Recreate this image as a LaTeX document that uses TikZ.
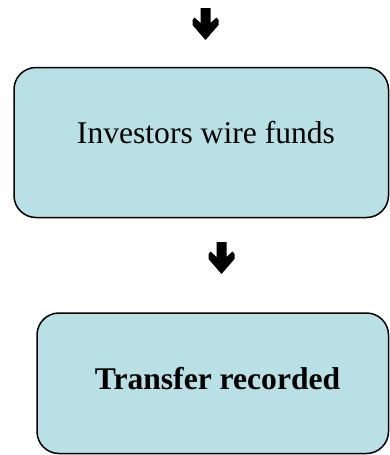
\documentclass[tikz,border=0pt]{standalone}
\usepackage{fontspec}
\setmainfont{Liberation Serif}
\definecolor{boxfill}{RGB}{185,224,228}
\begin{document}
\begin{tikzpicture}[x=1pt,y=-1pt,
  flowbox/.style={draw=black,line width=1.5pt,fill=boxfill,rounded corners=22pt,inner sep=0pt,outer sep=0pt},
  boxtext/.style={anchor=base,inner sep=0pt,font=\fontsize{31.6}{36}\selectfont},
  downarrow/.pic={\fill[black] (-5,0) -- (5,0) -- (5,15) -- (11,9.5) -- (13,12) -- (13,17) -- (0,32) -- (-13,17) -- (-13,12) -- (-11,9.5) -- (-5,15) -- cycle;}]
\useasboundingbox (0,0) rectangle (390,455);
\pic (arrowA) at (205.5,8) {downarrow};
\node[flowbox,minimum width=374.5pt,minimum height=150pt] (box1) at (201.25,142.5) {};
\node[boxtext] (t1) at (206,143) {Investors wire funds};
\pic (arrowB) at (221.5,242) {downarrow};
\node[flowbox,minimum width=351.5pt,minimum height=140.5pt] (box2) at (212.75,383.25) {};
\node[boxtext,font=\fontsize{31.6}{36}\selectfont\bfseries] (t2) at (217.5,389) {Transfer recorded};
\end{tikzpicture}
\end{document}
